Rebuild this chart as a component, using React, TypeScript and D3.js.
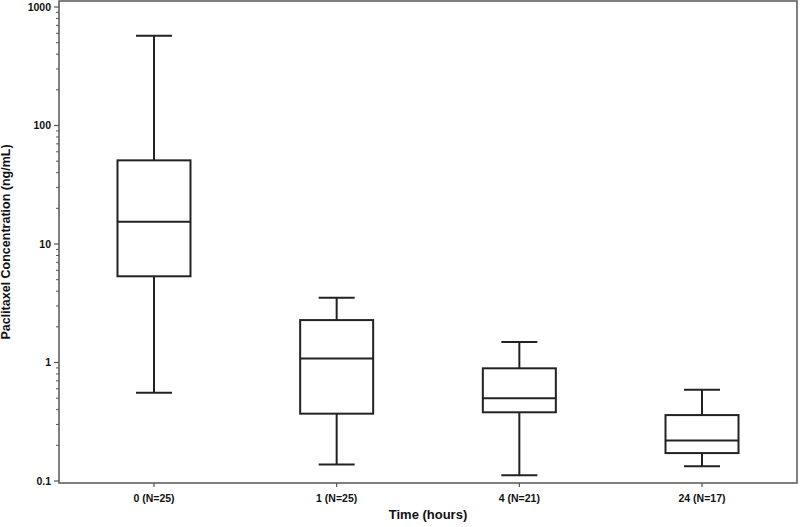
import * as d3 from 'd3';

// Paclitaxel concentration by sampling time (box plot, log scale)
const categories = ['0 (N=25)', '1 (N=25)', '4 (N=21)', '24 (N=17)'];
const whiskerLow = [0.556, 0.138, 0.112, 0.133];
const q1 = [5.34, 0.37, 0.38, 0.172];
const median = [15.4, 1.08, 0.499, 0.22];
const q3 = [50.8, 2.28, 0.893, 0.36];
const whiskerHigh = [573, 3.52, 1.49, 0.589];
const yTickValues = [0.1, 1, 10, 100, 1000];

const width = 800;
const height = 527;
const frame = { left: 59, right: 797, top: 1, bottom: 483 };
const font = '"Liberation Sans", Arial, sans-serif';
const axisColor = '#555';
const boxColor = '#222';

export default function App() {
  const x = d3
    .scalePoint<string>()
    .domain(categories)
    .range([frame.left, frame.right])
    .padding(0.52);

  const y = d3.scaleLog().domain([0.1, 1000]).range([481, 7]);

  const boxW = 73;
  const capW = 36;

  // minor ticks 2..9 within each decade
  const minorTicks: number[] = [];
  for (let d = -1; d < 3; d++) {
    for (let m = 2; m <= 9; m++) minorTicks.push(m * Math.pow(10, d));
  }

  const fmt = (v: number) => (v < 1 ? String(v) : d3.format('d')(v));

  return (
    <svg
      width={width}
      height={height}
      style={{ position: 'absolute', left: 0, top: 0, background: '#fff' }}
    >
      {/* Frame */}
      <rect
        x={frame.left}
        y={frame.top}
        width={frame.right - frame.left}
        height={frame.bottom - frame.top}
        fill="none"
        stroke={axisColor}
        strokeWidth={1.5}
      />

      {/* Y axis ticks */}
      {minorTicks.map((t, i) => (
        <line
          key={`mt-${i}`}
          x1={frame.left - 3}
          x2={frame.left}
          y1={y(t)}
          y2={y(t)}
          stroke={axisColor}
          strokeWidth={1}
        />
      ))}
      {yTickValues.map((t) => (
        <g key={`yt-${t}`} transform={`translate(0,${y(t)})`}>
          <line x1={frame.left - 5} x2={frame.left} stroke={axisColor} strokeWidth={1.2} />
          <text
            x={frame.left - 8}
            dy="0.35em"
            textAnchor="end"
            fontSize={10.5}
            fontWeight="bold"
            fontFamily={font}
            fill="#111"
          >
            {fmt(t)}
          </text>
        </g>
      ))}
      <text
        transform={`translate(10,${(frame.top + frame.bottom) / 2}) rotate(-90)`}
        textAnchor="middle"
        fontSize={12.5}
        fontWeight="bold"
        fontFamily={font}
        fill="#111"
      >
        Paclitaxel Concentration (ng/mL)
      </text>

      {/* X axis ticks */}
      {categories.map((c) => (
        <g key={`xt-${c}`} transform={`translate(${x(c)},${frame.bottom})`}>
          <line y1={0} y2={4} stroke={axisColor} strokeWidth={1.2} />
          <text
            y={19}
            textAnchor="middle"
            fontSize={10.5}
            fontWeight="bold"
            fontFamily={font}
            fill="#111"
          >
            {c}
          </text>
        </g>
      ))}
      <text
        x={(frame.left + frame.right) / 2}
        y={519}
        textAnchor="middle"
        fontSize={13}
        fontWeight="bold"
        fontFamily={font}
        fill="#111"
      >
        Time (hours)
      </text>

      {/* Boxes */}
      {categories.map((c, i) => {
        const cx = x(c) as number;
        return (
          <g key={`box-${c}`} stroke={boxColor} strokeWidth={2} fill="none">
            <line x1={cx} x2={cx} y1={y(whiskerHigh[i])} y2={y(q3[i])} />
            <line x1={cx} x2={cx} y1={y(q1[i])} y2={y(whiskerLow[i])} />
            <line x1={cx - capW / 2} x2={cx + capW / 2} y1={y(whiskerHigh[i])} y2={y(whiskerHigh[i])} />
            <line x1={cx - capW / 2} x2={cx + capW / 2} y1={y(whiskerLow[i])} y2={y(whiskerLow[i])} />
            <rect
              x={cx - boxW / 2}
              y={y(q3[i])}
              width={boxW}
              height={y(q1[i]) - y(q3[i])}
            />
            <line x1={cx - boxW / 2} x2={cx + boxW / 2} y1={y(median[i])} y2={y(median[i])} />
          </g>
        );
      })}
    </svg>
  );
}
